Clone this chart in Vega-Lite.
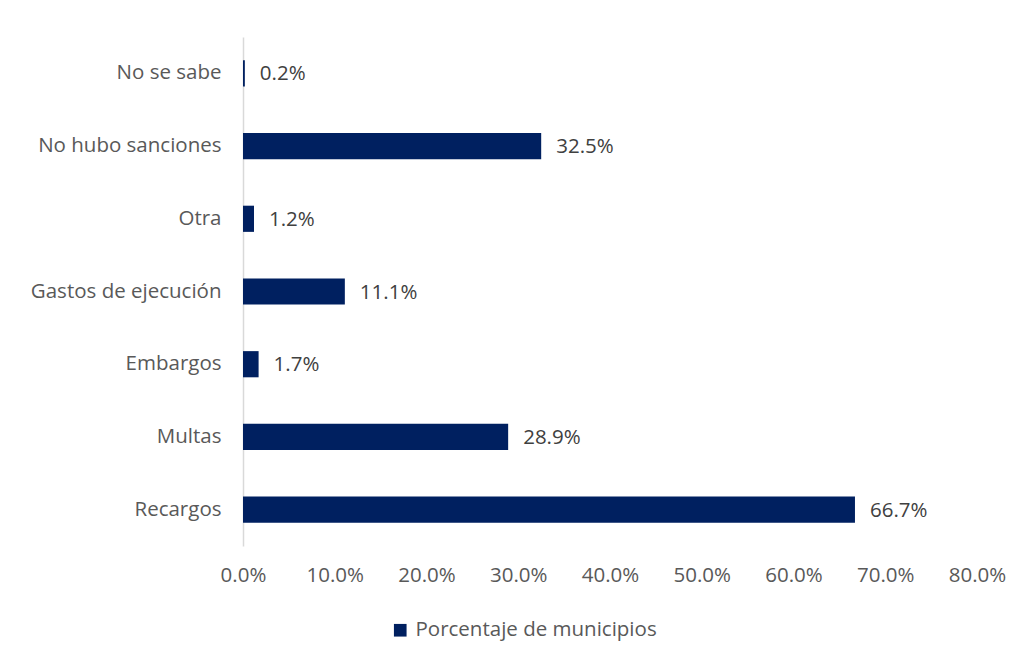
{
  "$schema": "https://vega.github.io/schema/vega-lite/v6.json",
  "width": 734,
  "height": 509,
  "autosize": "none",
  "padding": {"left": 243, "top": 37, "right": 48, "bottom": 117},
  "background": "white",
  "data": {
    "values": [
      {"categoria": "No se sabe", "valor": 0.002, "serie": "Porcentaje de municipios"},
      {"categoria": "No hubo sanciones", "valor": 0.325, "serie": "Porcentaje de municipios"},
      {"categoria": "Otra", "valor": 0.012, "serie": "Porcentaje de municipios"},
      {"categoria": "Gastos de ejecución", "valor": 0.111, "serie": "Porcentaje de municipios"},
      {"categoria": "Embargos", "valor": 0.017, "serie": "Porcentaje de municipios"},
      {"categoria": "Multas", "valor": 0.289, "serie": "Porcentaje de municipios"},
      {"categoria": "Recargos", "valor": 0.667, "serie": "Porcentaje de municipios"}
    ]
  },
  "encoding": {
    "y": {
      "field": "categoria",
      "type": "nominal",
      "sort": null,
      "scale": {"paddingInner": 0.64, "paddingOuter": 0.32},
      "axis": {
        "title": null,
        "ticks": false,
        "domainColor": "#d9d9d9",
        "domainWidth": 1.5,
        "labelFont": "Open Sans",
        "labelFontSize": 20.5,
        "labelColor": "#595959",
        "labelPadding": 22,
        "labelLimit": 300
      }
    },
    "x": {
      "field": "valor",
      "type": "quantitative",
      "scale": {"domain": [0, 0.8], "nice": false},
      "axis": {
        "title": null,
        "format": ".1%",
        "values": [0, 0.1, 0.2, 0.3, 0.4, 0.5, 0.6, 0.7, 0.8],
        "grid": false,
        "domain": false,
        "ticks": false,
        "labelFlush": false,
        "labelOverlap": false,
        "labelFont": "Open Sans",
        "labelFontSize": 20.5,
        "labelColor": "#595959",
        "labelPadding": 19
      }
    }
  },
  "layer": [
    {
      "mark": {"type": "bar"},
      "encoding": {
        "color": {
          "field": "serie",
          "type": "nominal",
          "scale": {"range": ["#002060"]},
          "legend": {
            "title": null,
            "orient": "none",
            "legendX": 147,
            "legendY": 583,
            "symbolType": "square",
            "symbolSize": 160,
            "symbolStrokeWidth": 0,
            "labelFont": "Open Sans",
            "labelFontSize": 20.5,
            "labelColor": "#595959",
            "labelOffset": 5,
            "labelLimit": 400
          }
        }
      }
    },
    {
      "mark": {"type": "text", "align": "left", "baseline": "middle", "dx": 15, "dy": 1, "font": "Open Sans", "fontSize": 20.5, "color": "#404040"},
      "encoding": {
        "text": {"field": "valor", "type": "quantitative", "format": ".1%"}
      }
    }
  ],
  "config": {"view": {"stroke": null}}
}
